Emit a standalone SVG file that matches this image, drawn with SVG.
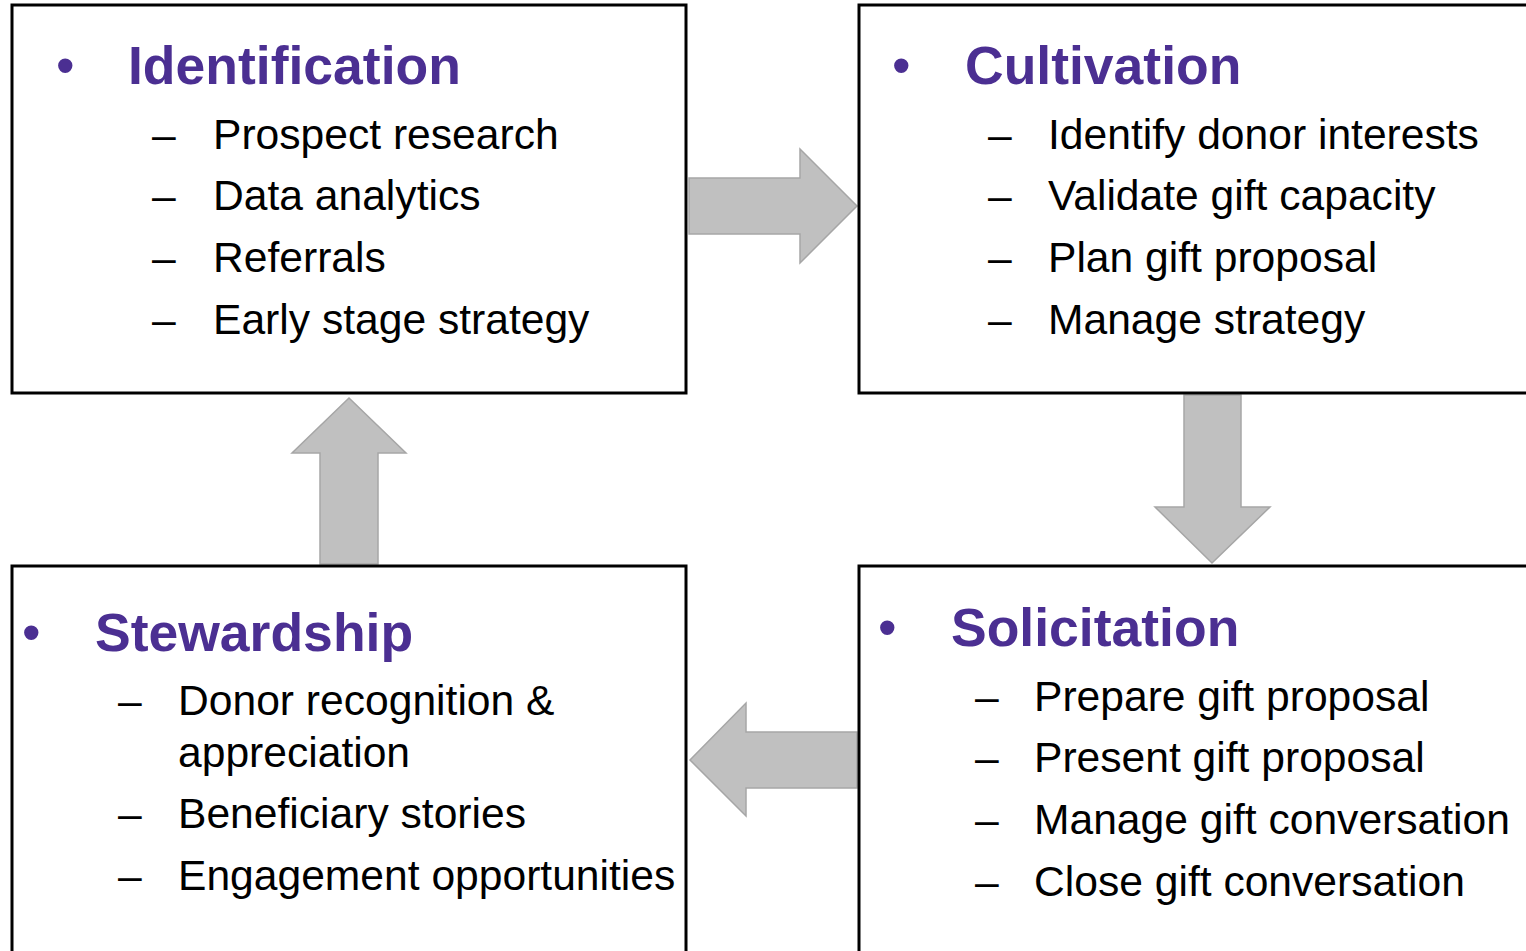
<svg xmlns="http://www.w3.org/2000/svg" width="1526" height="951" viewBox="0 0 1526 951">
<style>
.box{fill:#ffffff;stroke:#000000;stroke-width:3}
.arrow{fill:#c0c0c0;stroke:#a6a6a6;stroke-width:1.5;stroke-linejoin:miter}
.title{font-family:"Liberation Sans",Arial,sans-serif;font-weight:bold;font-size:53.5px;fill:#4b2f92}
.bullet{font-family:"Liberation Sans",Arial,sans-serif;font-size:53px;fill:#4b2f92}
.item{font-family:"Liberation Sans",Arial,sans-serif;font-size:42.6px;fill:#000000}
</style>
<rect width="1526" height="951" fill="#ffffff"/>
<g id="connectors">
<polygon class="arrow" points="689,178 800,178 800,149 857,206 800,263 800,234 689,234"/>
<polygon class="arrow" points="1184,395 1241,395 1241,507 1270,507 1212,563 1155,507 1184,507"/>
<polygon class="arrow" points="857,732 746,732 746,703 690,760 746,816 746,788 857,788"/>
<polygon class="arrow" points="320,564 320,453 292,453 349,398 406,453 378,453 378,564"/>
</g>
<g id="identification">
<rect class="box" x="12" y="5" width="674" height="388"/>
<text class="bullet" x="56" y="84">•</text>
<text class="title" x="128" y="84">Identification</text>
<text class="item" x="152" y="149">–</text><text class="item" x="213" y="149">Prospect research</text>
<text class="item" x="152" y="210">–</text><text class="item" x="213" y="210">Data analytics</text>
<text class="item" x="152" y="272">–</text><text class="item" x="213" y="272">Referrals</text>
<text class="item" x="152" y="334">–</text><text class="item" x="213" y="334">Early stage strategy</text>
</g>
<g id="cultivation">
<rect class="box" x="859" y="5" width="700" height="388"/>
<text class="bullet" x="892" y="84">•</text>
<text class="title" x="965" y="84">Cultivation</text>
<text class="item" x="988" y="149">–</text><text class="item" x="1048" y="149">Identify donor interests</text>
<text class="item" x="988" y="210">–</text><text class="item" x="1048" y="210">Validate gift capacity</text>
<text class="item" x="988" y="272">–</text><text class="item" x="1048" y="272">Plan gift proposal</text>
<text class="item" x="988" y="334">–</text><text class="item" x="1048" y="334">Manage strategy</text>
</g>
<g id="stewardship">
<rect class="box" x="12" y="566" width="674" height="400"/>
<text class="bullet" x="22" y="651">•</text>
<text class="title" x="95" y="651">Stewardship</text>
<text class="item" x="118" y="715">–</text><text class="item" x="178" y="715">Donor recognition &amp;</text>
<text class="item" x="178" y="767">appreciation</text>
<text class="item" x="118" y="828">–</text><text class="item" x="178" y="828">Beneficiary stories</text>
<text class="item" x="118" y="890">–</text><text class="item" x="178" y="890">Engagement opportunities</text>
</g>
<g id="solicitation">
<rect class="box" x="859" y="566" width="700" height="400"/>
<text class="bullet" x="878" y="646">•</text>
<text class="title" x="951" y="646">Solicitation</text>
<text class="item" x="975" y="711">–</text><text class="item" x="1034" y="711">Prepare gift proposal</text>
<text class="item" x="975" y="772">–</text><text class="item" x="1034" y="772">Present gift proposal</text>
<text class="item" x="975" y="834">–</text><text class="item" x="1034" y="834">Manage gift conversation</text>
<text class="item" x="975" y="896">–</text><text class="item" x="1034" y="896">Close gift conversation</text>
</g>
</svg>
